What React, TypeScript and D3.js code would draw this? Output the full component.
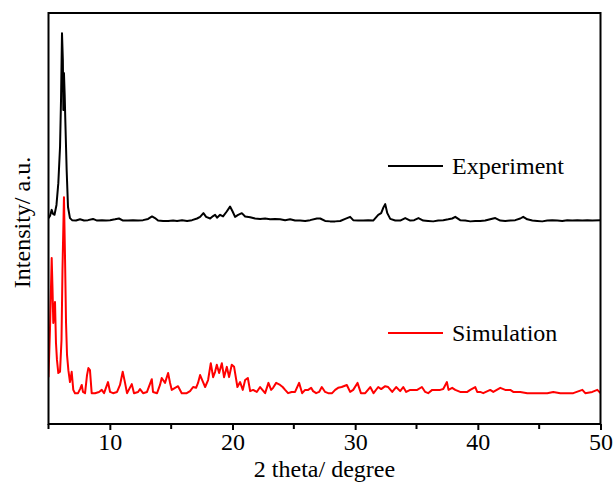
import { useEffect, useRef } from 'react';
import * as d3 from 'd3';

// [2 theta, intensity a.u.]
const experiment: [number, number][] = [
  [5.0, 50.1], [5.12, 50.6], [5.26, 52.1], [5.37, 51.1], [5.49, 50.9], [5.65, 53.3], [5.8, 58.6],
  [5.94, 67.4], [6.02, 78.8], [6.1, 95.1], [6.17, 88.6], [6.21, 76.4], [6.26, 85.4], [6.32, 80.0],
  [6.37, 74.0], [6.48, 61.8], [6.59, 52.8], [6.75, 50.1], [6.92, 49.6], [7.24, 49.5], [7.57, 49.8],
  [7.9, 49.5], [8.22, 49.6], [8.63, 49.9], [8.96, 49.5], [9.36, 49.6], [9.69, 49.5], [10.02, 49.6],
  [10.42, 49.8], [10.75, 50.0], [11.08, 49.5], [11.48, 49.5], [11.89, 49.6], [12.3, 49.5],
  [12.71, 49.6], [13.12, 49.9], [13.44, 50.5], [13.68, 50.1], [13.93, 49.5], [14.34, 49.4],
  [14.75, 49.4], [15.16, 49.5], [15.48, 49.4], [15.89, 49.6], [16.3, 49.4], [16.7, 49.6],
  [17.11, 50.0], [17.36, 50.4], [17.63, 51.3], [17.85, 50.4], [18.18, 50.0], [18.42, 50.6],
  [18.58, 50.9], [18.74, 50.2], [18.99, 50.9], [19.23, 50.5], [19.53, 51.7], [19.8, 52.9],
  [20.01, 51.7], [20.21, 50.4], [20.46, 50.9], [20.76, 51.3], [21.03, 50.5], [21.44, 50.3],
  [21.84, 50.0], [22.25, 49.9], [22.66, 50.0], [23.07, 49.8], [23.47, 49.9], [23.88, 49.8],
  [24.29, 49.6], [24.7, 49.8], [25.1, 49.5], [25.51, 49.5], [25.92, 49.4], [26.33, 49.6],
  [26.88, 50.0], [27.15, 50.0], [27.55, 49.4], [27.96, 49.3], [28.37, 49.3], [28.78, 49.4],
  [29.19, 49.9], [29.59, 50.4], [29.84, 49.6], [30.24, 49.5], [30.65, 49.5], [31.06, 49.6],
  [31.47, 49.5], [31.88, 50.9], [32.12, 51.3], [32.29, 52.6], [32.45, 53.5], [32.62, 51.3],
  [32.86, 49.9], [33.27, 49.5], [33.67, 49.5], [34.08, 50.1], [34.49, 49.5], [34.81, 49.6],
  [35.16, 50.1], [35.55, 49.5], [35.95, 49.4], [36.36, 49.3], [36.77, 49.5], [37.18, 49.6],
  [37.59, 49.8], [37.91, 50.0], [38.16, 50.4], [38.56, 49.6], [38.97, 49.5], [39.38, 49.3],
  [39.79, 49.4], [40.19, 49.4], [40.6, 49.5], [41.01, 49.8], [41.42, 50.1], [41.83, 49.5],
  [42.23, 49.4], [42.64, 49.5], [43.05, 49.6], [43.46, 50.0], [43.7, 50.4], [44.03, 49.8],
  [44.44, 49.5], [44.84, 49.4], [45.25, 49.3], [45.66, 49.5], [46.07, 49.6], [46.48, 49.5],
  [46.88, 49.4], [47.29, 49.6], [47.7, 49.5], [48.11, 49.6], [48.52, 49.5], [48.92, 49.6],
  [49.33, 49.5], [50.0, 49.6],
];

const simulation: [number, number][] = [
  [5.0, 11.4], [5.12, 22.9], [5.26, 40.4], [5.33, 32.6], [5.39, 24.6], [5.53, 29.7], [5.61, 19.7],
  [5.69, 15.6], [5.8, 12.4], [5.94, 12.7], [6.06, 20.4], [6.14, 37.5], [6.26, 55.2], [6.35, 39.9],
  [6.43, 24.6], [6.51, 16.8], [6.62, 13.1], [6.75, 10.2], [6.89, 12.7], [7.02, 8.3], [7.16, 7.5],
  [7.41, 7.5], [7.57, 8.5], [7.71, 9.5], [7.81, 7.8], [7.98, 7.5], [8.14, 11.9], [8.25, 13.6],
  [8.38, 13.1], [8.52, 7.5], [8.79, 7.5], [9.12, 7.8], [9.34, 8.3], [9.53, 7.5], [9.85, 10.2],
  [10.02, 7.8], [10.26, 7.5], [10.59, 7.8], [10.83, 9.5], [11.05, 12.7], [11.24, 10.0], [11.4, 7.5],
  [11.79, 9.7], [11.97, 7.5], [12.3, 7.8], [12.46, 8.5], [12.71, 7.5], [13.03, 7.8], [13.42, 10.9],
  [13.52, 7.8], [13.85, 7.5], [14.09, 9.5], [14.23, 11.2], [14.34, 10.7], [14.5, 10.0],
  [14.75, 12.4], [14.91, 10.0], [15.05, 8.3], [15.32, 8.8], [15.56, 9.2], [15.86, 7.5],
  [16.27, 7.5], [16.54, 8.0], [16.79, 9.0], [17.03, 8.8], [17.19, 10.0], [17.36, 11.9],
  [17.6, 10.2], [17.77, 9.0], [18.01, 10.7], [18.23, 14.8], [18.42, 11.4], [18.58, 12.7],
  [18.72, 14.4], [18.91, 12.4], [19.13, 14.8], [19.31, 11.4], [19.54, 13.9], [19.72, 11.4],
  [19.94, 14.4], [20.13, 13.9], [20.4, 9.0], [20.62, 10.2], [20.84, 8.3], [21.03, 10.7],
  [21.25, 11.2], [21.44, 8.0], [21.68, 8.3], [21.98, 7.8], [22.25, 9.0], [22.66, 7.5],
  [22.93, 10.0], [23.15, 8.3], [23.31, 8.8], [23.56, 10.0], [23.88, 9.5], [24.09, 9.0],
  [24.29, 8.3], [24.53, 7.5], [24.82, 7.8], [25.1, 7.8], [25.43, 10.0], [25.68, 7.5], [25.92, 8.3],
  [26.17, 8.3], [26.41, 8.8], [26.57, 8.0], [26.82, 7.5], [27.06, 7.8], [27.28, 9.0], [27.55, 7.8],
  [27.8, 7.5], [28.12, 7.5], [28.37, 8.3], [28.61, 8.8], [28.9, 9.0], [29.32, 9.5], [29.59, 7.8],
  [29.84, 8.3], [30.19, 10.0], [30.47, 7.5], [30.82, 7.5], [31.23, 9.0], [31.5, 7.5], [31.88, 9.0],
  [32.12, 8.5], [32.45, 9.2], [32.69, 9.0], [33.02, 7.8], [33.34, 9.0], [33.67, 8.0], [33.92, 9.0],
  [34.16, 7.8], [34.49, 8.3], [34.73, 8.3], [35.06, 8.3], [35.44, 9.0], [35.71, 7.8], [35.95, 7.5],
  [36.28, 8.3], [36.52, 8.3], [36.93, 8.3], [37.18, 8.5], [37.48, 10.2], [37.61, 8.3], [37.91, 8.8],
  [38.16, 8.3], [38.56, 7.8], [38.81, 7.8], [39.14, 7.8], [39.38, 8.3], [39.79, 9.0], [39.95, 7.8],
  [40.19, 7.8], [40.44, 7.5], [41.01, 8.3], [41.26, 7.8], [41.83, 8.8], [42.23, 8.3], [42.64, 8.3],
  [42.89, 7.8], [43.46, 7.8], [44.03, 7.5], [44.52, 7.5], [45.09, 7.5], [45.66, 7.5], [46.15, 7.8],
  [46.72, 7.5], [47.29, 7.5], [47.78, 7.5], [48.52, 8.3], [48.76, 7.5], [49.33, 7.8], [49.74, 8.3],
  [50.0, 7.5],
];

const majorTicks = [10, 20, 30, 40, 50];
const minorTicks = [5, 15, 25, 35, 45];
const seriesNames = ['Experiment', 'Simulation'];
const seriesColors = ['#000000', '#ff0000'];

const W = 616;
const H = 486;
const FONT = '"Liberation Serif", "Times New Roman", serif';
const FS = 24;

const App = () => {
  const svgRef = useRef<SVGSVGElement>(null);

  useEffect(() => {
    const svg = d3.select(svgRef.current);
    svg.selectAll('*').remove();

    const left = 48.5, right = 600.5, top = 13, bottom = 424;
    const x = d3.scaleLinear().domain([5, 50]).range([left, right]);
    const y = d3.scaleLinear().domain([0, 100]).range([bottom, top]);

    svg.append('defs').append('clipPath').attr('id', 'plot-clip')
      .append('rect').attr('x', left).attr('y', top).attr('width', right - left).attr('height', bottom - top);

    const line = d3.line<[number, number]>().x(d => x(d[0])).y(d => y(d[1]));

    const plot = svg.append('g').attr('clip-path', 'url(#plot-clip)');
    [experiment, simulation].forEach((data, i) => {
      plot.append('path')
        .attr('d', line(data))
        .attr('fill', 'none')
        .attr('stroke', seriesColors[i])
        .attr('stroke-width', 2)
        .attr('stroke-linejoin', 'round');
    });

    // frame
    svg.append('rect')
      .attr('x', left).attr('y', top)
      .attr('width', right - left).attr('height', bottom - top)
      .attr('fill', 'none').attr('stroke', '#000').attr('stroke-width', 2);

    // bottom axis
    const axis = svg.append('g').attr('transform', `translate(0,${bottom})`);
    axis.call(d3.axisBottom(x).tickValues(majorTicks).tickSize(6).tickSizeOuter(0).tickFormat(d3.format('d')));
    axis.select('.domain').remove();
    axis.selectAll('.tick line').attr('stroke-width', 2);
    axis.selectAll('.tick text')
      .attr('font-family', FONT).attr('font-size', FS).attr('fill', '#000').attr('dy', '0.71em');
    axis.selectAll('.minor')
      .data(minorTicks).enter().append('line')
      .attr('x1', d => x(d)).attr('x2', d => x(d))
      .attr('y1', 0).attr('y2', 5)
      .attr('stroke', '#000').attr('stroke-width', 2);

    svg.append('text')
      .attr('x', (left + right) / 2).attr('y', 477)
      .attr('text-anchor', 'middle')
      .attr('font-family', FONT).attr('font-size', FS)
      .text('2 theta/ degree');

    svg.append('text')
      .attr('transform', `translate(30,${(top + bottom) / 2 + 4}) rotate(-90)`)
      .attr('text-anchor', 'middle')
      .attr('font-family', FONT).attr('font-size', FS)
      .text('Intensity/ a.u.');

    // legend
    const legendY = [166, 333];
    seriesNames.forEach((name, i) => {
      svg.append('line')
        .attr('x1', 388).attr('x2', 443)
        .attr('y1', legendY[i]).attr('y2', legendY[i])
        .attr('stroke', seriesColors[i]).attr('stroke-width', 2);
      svg.append('text')
        .attr('x', 452).attr('y', legendY[i] + 8)
        .attr('font-family', FONT).attr('font-size', FS)
        .text(name);
    });
  }, []);

  return (
    <svg
      ref={svgRef}
      width={W}
      height={H}
      style={{ position: 'absolute', left: 0, top: 0, background: '#fff' }}
    />
  );
};

export default App;
